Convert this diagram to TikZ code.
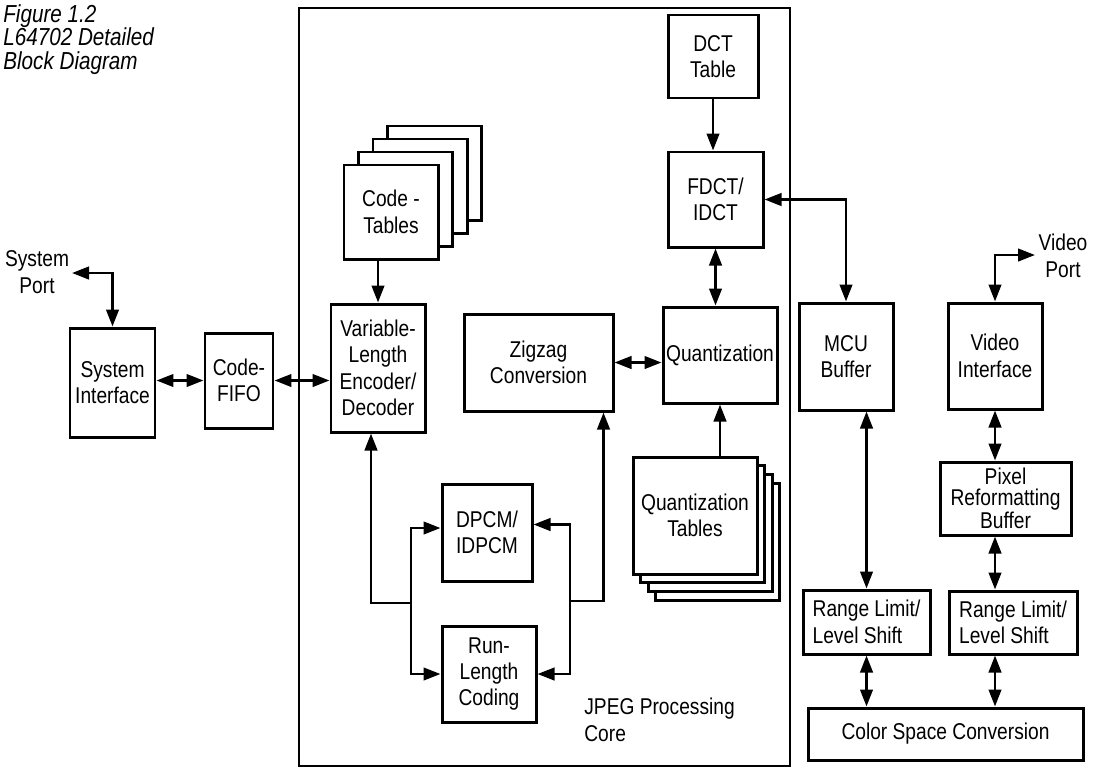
\documentclass[tikz,border=0pt]{standalone}
\usepackage{fontspec}
\setmainfont[FakeStretch=0.84]{Liberation Sans}
\usetikzlibrary{arrows.meta}
\newcommand{\boxfont}{\fontsize{13}{15}\selectfont}
\begin{document}
\begin{tikzpicture}[x=0.2mm,y=-0.2mm,
		box/.style={draw,line width=1.7pt,fill=white,inner sep=1pt,align=center,font=\boxfont},
		sz/.style 2 args={minimum width=#1*0.2mm,minimum height=#2*0.2mm},
		arr/.style={line width=1.5pt,-{Triangle[length=3.4mm,width=2.5mm]}},
		darr/.style={line width=1.5pt,{Triangle[length=3.4mm,width=2.5mm]}-{Triangle[length=3.4mm,width=2.5mm]}}]
	\useasboundingbox (0,0) rectangle (1100,770);
	% title
	\node [anchor=north west,inner sep=0,align=left,font=\fontsize{14}{13.4}\selectfont\itshape] (title) at (3,4)
		{Figure 1.2\\L64702 Detailed\\Block Diagram};
	% JPEG core
	\draw [line width=1.2pt] (299,8) rectangle (790,766);
	\node [anchor=north west,inner sep=0,align=left,font=\boxfont] (corelbl) at (584,698) {JPEG Processing\\Core};
	% left side
	\node [inner sep=0,align=center,font=\boxfont] (sysportlbl) at (37,272) {System\\Port};
	\coordinate (sysport) at (72,273);
	\node [box,sz={85}{109}] (sysif) at (112.5,382.5) {System\\Interface};
	\node [box,sz={68}{95}] (fifo) at (239,380.5) {Code-\\FIFO};
	\node [box,sz={94}{128}] (vlc) at (378,368) {Variable-\\Length\\Encoder/\\Decoder};
	% code tables stack
	\foreach \i in {3,2,1}
		\node [box,sz={94}{94}] (codetab\i) at (391+14.5*\i,212-13*\i) {};
	\node [box,sz={94}{94}] (codetab) at (391,212) {Code -\\Tables};
	\node [box,sz={90}{83}] (dct) at (713,56.5) {DCT\\Table};
	\node [box,sz={95}{95}] (fdct) at (715.5,199.5) {FDCT/\\IDCT};
	\node [box,sz={114}{96}] (quant) at (720,355) {Quantization};
	\node [box,sz={149}{97}] (zigzag) at (538.5,362.5) {Zigzag\\Conversion};
	\node [box,sz={90}{97}] (dpcm) at (487,532.5) {DPCM/\\IDPCM};
	\node [box,sz={94}{96}] (rlc) at (489,674) {Run-\\Length\\Coding};
	% quantization tables stack
	\foreach \i in {3,2,1}
		\node [box,sz={124}{117}] (qtab\i) at (695+7.5*\i,515.5+8.7*\i) {};
	\node [box,sz={124}{117}] (qtab) at (695,515.5) {Quantization\\Tables};
	% right side
	\node [box,sz={94}{107}] (mcu) at (846,356.5) {MCU\\Buffer};
	\node [box,sz={94}{106}] (vidif) at (995,356) {Video\\Interface};
	\node [inner sep=0,align=center,font=\boxfont] (vportlbl) at (1063,256) {Video\\Port};
	\coordinate (vport) at (1035,255);
	\node [box,sz={131}{73},font=\fontsize{13}{12}\selectfont] (pixel) at (1005.5,498.5) {Pixel\\Reformatting\\Buffer};
	\node [box,sz={127}{64},align=left] (rl1) at (866.5,622) {Range Limit/\\Level Shift};
	\node [box,sz={128}{63},align=left] (rl2) at (1013,622.5) {Range Limit/\\Level Shift};
	\node [box,sz={275}{52}] (csc) at (945.5,734) {Color Space Conversion};
	% connectors
	\draw [darr] (sysport) -| (sysif.north);
	\draw [darr] (fifo.west -| sysif.east) -- (fifo.west);
	\draw [darr] (fifo.east) -- (fifo.east -| vlc.west);
	\draw [arr] (codetab.south -| vlc.north) -- (vlc.north);
	\draw [arr] (dct.south) -- (dct.south |- fdct.north);
	\draw [darr] (fdct.south) -- (fdct.south |- quant.north);
	\draw [darr] (zigzag.east) -- (zigzag.east -| quant.west);
	\draw [arr] (qtab.north -| quant.south) -- (quant.south);
	\draw [darr] (fdct.east) -| (mcu.north);
	\coordinate (ljoin) at (411,603);
	\coordinate (rjoin) at (570,601);
	\draw [arr] (ljoin) -| ([xshift=-1.4mm]vlc.south);
	\draw [arr] (ljoin) |- ([yshift=0.9mm]dpcm.west);
	\draw [arr] (ljoin) |- (rlc.west);
	\draw [arr] (rjoin) |- ([yshift=1.6mm]dpcm.east);
	\draw [arr] (rjoin) |- (rlc.east);
	\draw [arr] (rjoin) -| ([xshift=-2.2mm]zigzag.south east);
	\draw [darr] (rl1.north |- mcu.south) -- (rl1.north);
	\draw [darr] (vport) -| (vidif.north);
	\draw [darr] (vidif.south) -- (vidif.south |- pixel.north);
	\draw [darr] (pixel.south -| vidif) -- (rl2.north -| vidif);
	\draw [darr] (rl1.south) -- (rl1.south |- csc.north);
	\draw [darr] (rl2.south -| vidif) -- (csc.north -| vidif);
\end{tikzpicture}
\end{document}
